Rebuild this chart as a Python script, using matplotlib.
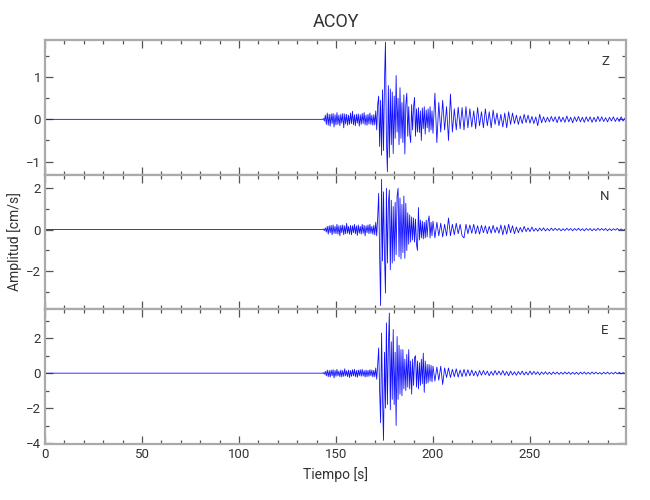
import matplotlib
matplotlib.use("Agg")
import matplotlib.pyplot as plt
from matplotlib.ticker import MultipleLocator
import numpy as np

plt.rcParams['font.family'] = ['Roboto', 'DejaVu Sans']

# sample times (s): quiet start, pre-event noise, strong motion, coda
t_noise = np.arange(143, 172, 0.5)
t_burst = np.arange(172, 200, 0.5)
t_coda = np.arange(200, 300, 1.0)

# --- Z component (cm/s) ---
z_noise = [0.00, 0.02, -0.04, 0.10, -0.12, 0.15, -0.14, 0.12, -0.16, 0.13,
           -0.10, 0.14, -0.18, 0.11, -0.13, 0.16, -0.12, 0.10, -0.15, 0.12,
           -0.09, 0.14, -0.20, 0.13, -0.11, 0.12, -0.14, 0.10, -0.12, 0.15,
           -0.10, 0.19, -0.13, 0.11, -0.15, 0.12, -0.09, 0.13, -0.16, 0.11,
           -0.12, 0.14, -0.10, 0.16, -0.13, 0.10, -0.14, 0.12, -0.11, 0.15,
           -0.12, 0.10, -0.14, 0.11, -0.13, 0.20, -0.25, 0.35]
z_burst = [0.55, -0.64, 0.45, -0.85, 0.70, -0.74, 0.90, 1.83, -0.50, -1.24,
           0.80, -0.90, 0.72, -0.60, 0.65, -0.81, 0.55, -0.45, 1.04, -0.30,
           0.50, -0.60, 0.75, -0.45, 0.40, -0.55, 0.58, -0.82, 0.35, 0.62,
           -0.40, 0.30, -0.35, -0.55, 0.35, -0.25, 0.30, 0.52, -0.40, 0.25,
           -0.30, 0.28, -0.31, 0.20, -0.50, 0.27, -0.22, 0.30, -0.35, 0.22,
           -0.20, 0.25, -0.30, 0.30, -0.25, 0.20]
z_coda = [-0.33, 0.62, -0.55, 0.40, -0.30, 0.45, -0.25, 0.30, -0.50, 0.60,
          -0.30, 0.25, -0.25, 0.29, -0.22, 0.28, -0.25, 0.30, -0.20, 0.25,
          -0.18, 0.20, -0.22, 0.28, -0.15, 0.18, -0.20, 0.25, -0.15, 0.18,
          -0.20, 0.22, -0.12, 0.15, -0.15, 0.12, -0.18, 0.15, -0.20, 0.18,
          -0.12, 0.15, -0.10, 0.10, -0.12, 0.08, -0.10, 0.12, -0.08, 0.10,
          -0.09, 0.07, -0.10, 0.06, -0.15, 0.12, -0.08, 0.06, -0.07, 0.05,
          -0.06, 0.07, -0.05, 0.06, -0.08, 0.07, -0.06, 0.05, -0.07, 0.08,
          -0.06, 0.05, -0.08, 0.06, -0.05, 0.07, -0.06, 0.05, -0.07, 0.06,
          -0.05, 0.06, -0.07, 0.05, -0.06, 0.07, -0.05, 0.06, -0.05, 0.04,
          -0.06, 0.05, -0.04, 0.06, -0.05, 0.04, -0.05, 0.06, -0.04, 0.03]

# --- N component ---
n_noise = [0.00, 0.02, -0.05, 0.08, -0.12, 0.15, -0.22, 0.18, -0.15, 0.20,
           -0.25, 0.22, -0.18, 0.15, -0.20, 0.25, -0.22, 0.18, -0.30, 0.20,
           -0.15, 0.22, -0.25, 0.18, -0.20, 0.30, -0.18, 0.15, -0.22, 0.20,
           -0.25, 0.18, -0.15, 0.25, -0.20, 0.18, -0.28, 0.22, -0.18, 0.15,
           -0.22, 0.25, -0.18, 0.20, -0.30, 0.18, -0.15, 0.22, -0.20, 0.25,
           -0.18, 0.15, -0.22, 0.20, -0.25, 0.35, -0.30, 0.60]
n_burst = [1.73, -1.20, -3.63, 2.40, -1.50, 1.80, -1.20, -3.03, 1.97, -1.60,
           1.20, 1.89, -1.92, 1.40, -1.60, 1.10, -1.50, 1.30, -1.20, 1.60,
           1.97, -1.30, 1.50, -1.40, 1.20, -1.10, 1.60, -1.37, 1.25, -1.00,
           0.80, -0.70, 0.70, -0.60, 0.60, -0.50, 0.55, -0.60, 0.50, -0.70,
           -1.00, 1.05, -0.50, 0.45, -0.40, 0.40, -0.45, 0.35, -0.40, 0.45,
           -0.35, 0.40, 0.65, -0.40, 0.35, -0.30]
n_coda = [0.40, -0.40, 0.35, -0.30, 0.30, -0.35, 0.25, -0.30, 0.55, -0.30,
          0.25, -0.25, 0.30, -0.20, 0.25, -0.30, -0.40, 0.25, -0.20, 0.22,
          -0.18, 0.25, -0.20, 0.18, -0.22, 0.20, -0.15, 0.18, -0.20, 0.15,
          -0.18, 0.20, -0.15, 0.12, -0.18, 0.22, -0.25, 0.20, -0.22, 0.25,
          -0.15, 0.18, -0.20, 0.12, -0.15, 0.10, -0.12, 0.15, -0.10, 0.08,
          -0.10, 0.12, -0.08, 0.06, -0.08, 0.07, -0.06, 0.08, -0.07, 0.05,
          -0.06, 0.07, -0.05, 0.06, -0.04, 0.05, -0.06, 0.04, -0.05, 0.06,
          -0.04, 0.05, -0.06, 0.05, -0.04, 0.06, -0.05, 0.04, -0.06, 0.05,
          -0.04, 0.05, -0.06, 0.04, -0.05, 0.06, -0.04, 0.05, -0.04, 0.05,
          -0.06, 0.04, -0.05, 0.04, -0.03, 0.05, -0.04, 0.03, -0.04, 0.02]

# --- E component ---
e_noise = [0.00, 0.03, -0.06, 0.10, -0.15, 0.18, -0.20, 0.15, -0.22, 0.18,
           -0.15, 0.20, -0.27, 0.16, -0.18, 0.22, -0.15, 0.12, -0.20, 0.18,
           -0.22, 0.15, -0.18, 0.25, -0.16, 0.14, -0.20, 0.18, -0.25, 0.15,
           -0.18, 0.20, -0.15, 0.22, -0.20, 0.16, -0.24, 0.18, -0.15, 0.20,
           -0.18, 0.22, -0.16, 0.15, -0.22, 0.18, -0.20, 0.16, -0.18, 0.20,
           -0.15, 0.18, -0.22, 0.16, -0.20, 0.30, -0.35, 0.50]
e_burst = [1.45, -1.00, -2.84, 2.30, -1.50, -3.85, 1.20, -2.00, 2.88, -1.80,
           1.50, 3.45, -2.10, 1.80, -1.50, 2.50, -1.80, 1.20, -3.00, 2.10,
           -1.50, 1.60, -1.20, 1.35, -1.30, 1.35, -0.90, 0.80, -1.00, 1.07,
           -0.80, 1.35, -0.90, 0.70, -1.20, 0.80, -0.70, 0.90, 1.00, -0.80,
           0.70, -0.90, 0.60, -0.70, 0.80, -0.60, 1.15, -1.10, 0.70, -0.60,
           0.50, -0.55, 0.50, -0.45, 0.45, -0.50]
e_coda = [0.40, -0.45, 0.35, -0.40, 0.40, -0.65, 0.30, -0.25, 0.30, -0.25,
          0.22, -0.20, 0.25, -0.22, 0.18, -0.20, 0.22, -0.18, 0.20, -0.15,
          0.18, -0.15, 0.12, -0.18, 0.15, -0.12, 0.15, -0.10, 0.12, -0.15,
          0.10, -0.12, 0.15, -0.10, 0.12, -0.10, 0.15, -0.12, 0.10, -0.15,
          0.12, -0.10, 0.08, -0.12, 0.10, -0.08, 0.12, -0.10, 0.08, -0.10,
          0.12, -0.08, 0.10, -0.07, 0.08, -0.10, 0.07, -0.06, 0.08, -0.07,
          0.06, -0.08, 0.07, -0.05, 0.06, -0.07, 0.05, -0.06, 0.07, -0.05,
          0.06, -0.07, 0.05, -0.06, 0.05, -0.07, 0.06, -0.05, 0.07, -0.06,
          0.05, -0.06, 0.07, -0.05, 0.06, -0.05, 0.04, -0.06, 0.05, -0.04,
          0.06, -0.05, 0.04, -0.05, 0.06, -0.04, 0.05, -0.04, 0.03, -0.02]

components = ['Z', 'N', 'E']
traces = [(z_noise, z_burst, z_coda), (n_noise, n_burst, n_coda), (e_noise, e_burst, e_coda)]
ylims = [(-1.31, 1.88), (-3.81, 2.62), (-4.06, 3.66)]
major_step = [1, 2, 2]
minor_step = [0.5, 1, 1]

t_all = np.concatenate([[0.0], t_noise, t_burst, t_coda])

fig = plt.figure(figsize=(6.5, 5), dpi=100)
left, right, bottom, top = 45 / 650, 626 / 650, 1 - 444 / 500, 1 - 40 / 500
h = (top - bottom) / 3
axes = []
for i in range(3):
    ax = fig.add_axes([left, top - (i + 1) * h, right - left, h])
    axes.append(ax)
    noise, burst, coda = traces[i]
    y = np.concatenate([[0.0], noise, burst, coda])
    ax.plot(t_all, y, color='#1010ff', lw=0.6)
    ax.set_xlim(0, 299.5)
    ax.set_ylim(*ylims[i])
    ax.xaxis.set_major_locator(MultipleLocator(50))
    ax.xaxis.set_minor_locator(MultipleLocator(10))
    ax.yaxis.set_major_locator(MultipleLocator(major_step[i]))
    ax.yaxis.set_minor_locator(MultipleLocator(minor_step[i]))
    ax.tick_params(which='both', direction='in', top=True, right=True,
                   color='#555555', width=0.9, labelsize=9.5, labelcolor='#333333', pad=3)
    ax.tick_params(which='major', length=6)
    ax.tick_params(which='minor', length=3)
    for s in ax.spines.values():
        s.set_color('#aaaaaa')
        s.set_linewidth(1.6)
    ax.text(0.964, 0.84, components[i], transform=ax.transAxes, ha='center', va='center',
            fontsize=9.5, color='#333333')
    if i < 2:
        ax.tick_params(labelbottom=False)

axes[0].set_title('ACOY', fontsize=13, color='#333333', pad=9)
axes[1].set_ylabel('Amplitud [cm/s]', fontsize=10, color='#333333')
axes[1].yaxis.set_label_coords(-0.04, 0.5)
axes[2].set_xlabel('Tiempo [s]', fontsize=10, color='#333333', labelpad=4)

fig.savefig('out.png', dpi=100)
